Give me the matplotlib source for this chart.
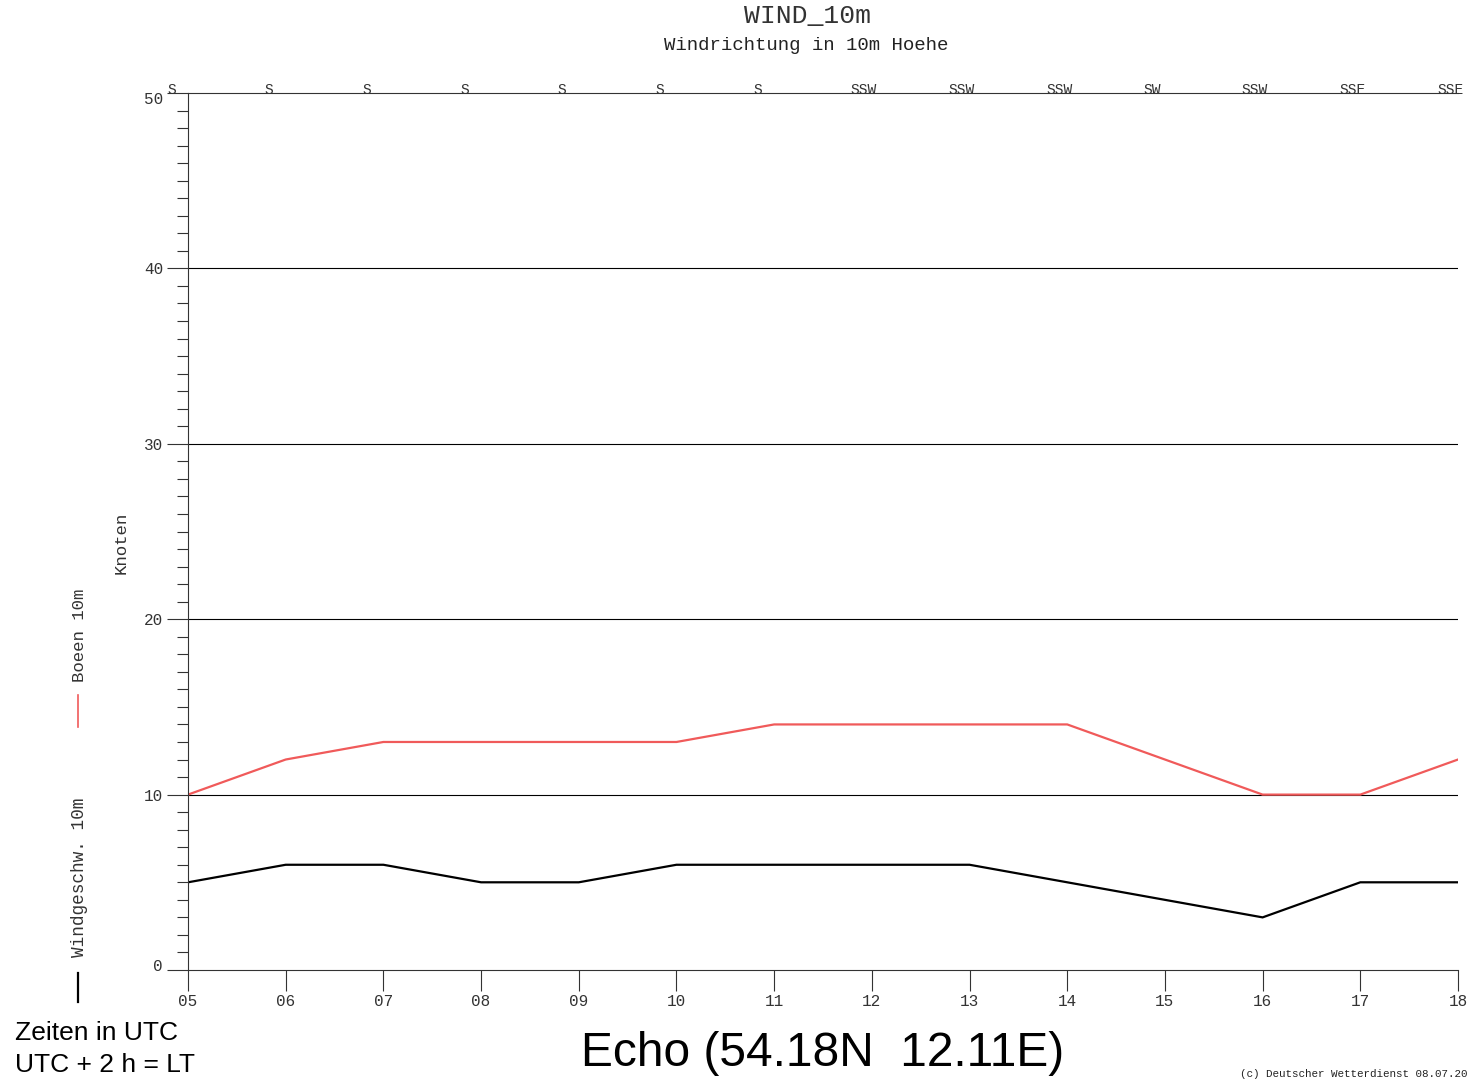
import matplotlib
matplotlib.use("Agg")
import matplotlib.pyplot as plt
from matplotlib.ticker import MultipleLocator
import matplotlib.transforms as mtransforms

hours = [5, 6, 7, 8, 9, 10, 11, 12, 13, 14, 15, 16, 17, 18]
hour_labels = ["05", "06", "07", "08", "09", "10", "11", "12", "13", "14", "15", "16", "17", "18"]
gusts = [10, 12, 13, 13, 13, 13, 14, 14, 14, 14, 12, 10, 10, 12]
wind = [5, 6, 6, 5, 5, 6, 6, 6, 6, 5, 4, 3, 5, 5]
directions = ["S", "S", "S", "S", "S", "S", "S", "SSW", "SSW", "SSW", "SW", "SSW", "SSE", "SSE"]
y_ticks = [0, 10, 20, 30, 40, 50]

MONO = "Liberation Mono"
SANS = "Liberation Sans"
RED = "#f05a5a"

fig = plt.figure(figsize=(14.72, 10.79), dpi=100)
W, H = 1472, 1079
ax = fig.add_axes([188 / W, 1 - 970 / H, (1458 - 188) / W, (970 - 93) / H])

ax.plot(hours, gusts, color=RED, lw=1.6, solid_joinstyle="miter")
ax.plot(hours, wind, color="black", lw=1.6, solid_joinstyle="miter")

ax.set_xlim(5, 18)
ax.set_ylim(0, 50)

ax.set_yticks(y_ticks)
ax.set_yticklabels([str(v) for v in y_ticks], fontfamily=MONO, fontsize=11.5, color="#333333")
ax.yaxis.set_minor_locator(MultipleLocator(1))
ax.set_xticks(hours)
ax.set_xticklabels(hour_labels, fontfamily=MONO, fontsize=11.5, color="#333333")

ax.tick_params(axis="y", which="major", direction="out", length=15, width=0.8, color="#333333", pad=3)
ax.tick_params(axis="y", which="minor", direction="out", length=8, width=0.8, color="#333333")
ax.tick_params(axis="x", which="major", direction="out", length=15, width=0.8, color="#333333", pad=2)

# nudge the end labels like the reference
ylabels = ax.get_yticklabels()
ylabels[0].set_transform(ylabels[0].get_transform() +
                         mtransforms.ScaledTranslation(0, 5 / 100, fig.dpi_scale_trans))
ylabels[-1].set_transform(ylabels[-1].get_transform() +
                          mtransforms.ScaledTranslation(0, -5 / 100, fig.dpi_scale_trans))

for v in y_ticks[1:-1]:
    ax.axhline(v, color="black", lw=0.8, zorder=0.5)

ax.spines["right"].set_visible(False)
for s in ["left", "bottom", "top"]:
    ax.spines[s].set_linewidth(0.8)
    ax.spines[s].set_color("#333333")

# direction labels along the top
blend = mtransforms.blended_transform_factory(ax.transData, ax.transAxes)
blend_off = mtransforms.offset_copy(blend, fig=fig, x=-21, y=-4, units="dots")
for h, d in zip(hours, directions):
    ax.text(h, 1.0, d, transform=blend_off, ha="left", va="bottom",
            fontfamily=MONO, fontsize=10.5, color="#333333", clip_on=False)

# titles
fig.text(808 / W, 1 - 16 / H, "WIND_10m", ha="center", va="center",
         fontfamily=MONO, fontsize=19, color="#333333")
fig.text(806 / W, 1 - 45 / H, "Windrichtung in 10m Hoehe", ha="center", va="center",
         fontfamily=MONO, fontsize=13.7, color="#222222")

# y label
fig.text(121 / W, 1 - 543 / H, "Knoten", rotation=90, ha="center", va="center",
         fontfamily=MONO, fontsize=12.5, color="#333333")

# legend at left
fig.text(79 / W, 1 - 635 / H, "Boeen 10m", rotation=90, ha="center", va="center",
         fontfamily=MONO, fontsize=12.5, color="#333333")
fig.add_artist(plt.Line2D([78 / W, 78 / W], [1 - 727 / H, 1 - 695 / H], color=RED, lw=1.2))
fig.text(79 / W, 1 - 877 / H, "Windgeschw. 10m", rotation=90, ha="center", va="center",
         fontfamily=MONO, fontsize=12.8, color="#333333")
fig.add_artist(plt.Line2D([78 / W, 78 / W], [1 - 1002 / H, 1 - 973 / H], color="black", lw=1.6))

# bottom texts
fig.text(15 / W, 1 - 1033 / H, "Zeiten in UTC", ha="left", va="center",
         fontfamily=SANS, fontsize=19, color="black")
fig.text(15 / W, 1 - 1065 / H, "UTC + 2 h = LT", ha="left", va="center",
         fontfamily=SANS, fontsize=19, color="black")
fig.text(823 / W, 1 - 1053 / H, "Echo (54.18N  12.11E)", ha="center", va="center",
         fontfamily=SANS, fontsize=34.5, color="black")
fig.text(1240 / W, 1 - 1074 / H, "(c) Deutscher Wetterdienst 08.07.20", ha="left", va="center",
         fontfamily=MONO, fontsize=7.8, color="#222222")

fig.savefig("out.png", dpi=100)
